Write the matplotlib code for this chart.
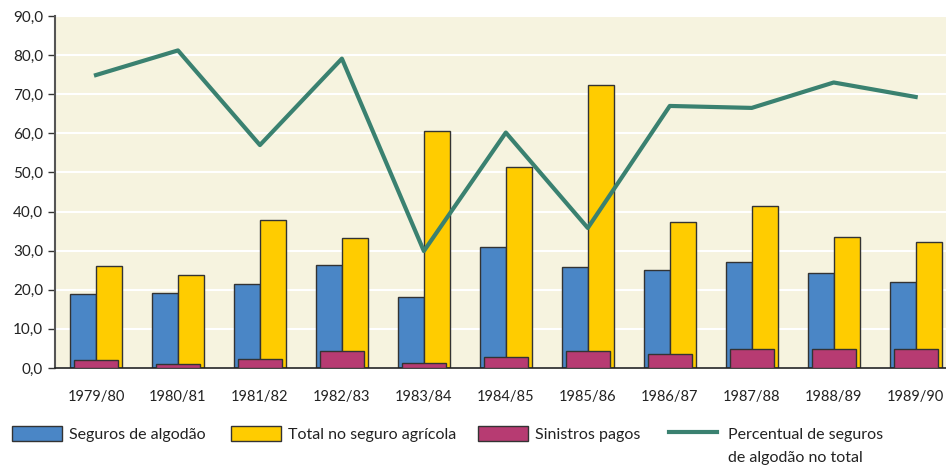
import numpy as np
import matplotlib.pyplot as plt
from matplotlib.ticker import FuncFormatter
from matplotlib.patches import Patch
from matplotlib.lines import Line2D

safras = ["1979/80", "1980/81", "1981/82", "1982/83", "1983/84", "1984/85",
          "1985/86", "1986/87", "1987/88", "1988/89", "1989/90"]
seguros_algodao = [19.0, 19.3, 21.4, 26.4, 18.1, 31.0, 25.8, 25.1, 27.2, 24.4, 22.1]
total_seguro = [26.0, 23.8, 37.9, 33.3, 60.7, 51.4, 72.3, 37.4, 41.3, 33.5, 32.1]
sinistros = [2.1, 1.0, 2.3, 4.4, 1.4, 2.8, 4.4, 3.7, 4.8, 4.9, 4.8]
percentual = [74.9, 81.2, 57.0, 79.1, 29.9, 60.2, 35.8, 67.0, 66.5, 73.0, 69.3]

plt.rcParams['font.family'] = ['Lato', 'DejaVu Sans']

c_azul, c_amarelo, c_rosa, c_verde = '#4a86c6', '#ffcc00', '#b73b72', '#3a8170'
borda = '#333333'

fig = plt.figure(figsize=(9.46, 4.66), dpi=100)
ax = fig.add_axes([55 / 946, 98 / 466, 1 - 55 / 946, 352 / 466])
ax.set_facecolor('#f6f3df')

x = np.arange(len(safras))
w = 0.317
ax.bar(x - w / 2, seguros_algodao, w, color=c_azul, edgecolor=borda, linewidth=1, zorder=2)
ax.bar(x + w / 2, total_seguro, w, color=c_amarelo, edgecolor=borda, linewidth=1, zorder=2)
ax.bar(x, sinistros, 0.54, color=c_rosa, edgecolor=borda, linewidth=1, zorder=3)
ax.plot(x, percentual, color=c_verde, linewidth=3, zorder=4)

ax.set_xlim(-0.5, 10.37)
ax.set_ylim(0, 90)
ax.set_yticks(np.arange(0, 91, 10))
ax.yaxis.set_major_formatter(FuncFormatter(lambda v, p: f"{v:.1f}".replace('.', ',')))
ax.grid(axis='y', color='white', linewidth=1.5, zorder=0)
ax.set_axisbelow(True)
ax.set_xticks(x)
ax.set_xticklabels(safras)
ax.tick_params(axis='x', length=0, pad=16, labelsize=10.5, labelcolor='#222222')
ax.tick_params(axis='y', length=5, width=1, color='#333333', labelsize=11, labelcolor='#222222')
for s in ['top', 'right']:
    ax.spines[s].set_visible(False)
ax.spines['left'].set_color('#555555')
ax.spines['left'].set_linewidth(1.5)
ax.spines['bottom'].set_color('#222222')
ax.spines['bottom'].set_linewidth(1.2)

# legenda: quatro blocos separados, como no original
itens = [
    (Patch(facecolor=c_azul, edgecolor=borda), 'Seguros de algodão', 12, 3.13, 0.44),
    (Patch(facecolor=c_amarelo, edgecolor=borda), 'Total no seguro agrícola', 231, 3.13, 0.44),
    (Patch(facecolor=c_rosa, edgecolor=borda), 'Sinistros pagos', 478, 3.13, 0.44),
    (Line2D([], [], color=c_verde, linewidth=3), 'Percentual de seguros', 669, 3.0, 0.69),
]
for h, lab, px, hl, tp in itens:
    leg = fig.legend([h], [lab], loc='upper left', bbox_to_anchor=(px / 946, 1 - 426 / 466),
                     frameon=False, fontsize=11.5, handlelength=hl, handleheight=1.06,
                     handletextpad=tp, borderpad=0, borderaxespad=0, labelcolor='#222222')
# segunda linha do último rótulo
fig.text(728 / 946, 1 - 458 / 466, 'de algodão no total', fontsize=11.5, color='#222222',
         va='center', ha='left')

fig.savefig('out.png', dpi=100)
